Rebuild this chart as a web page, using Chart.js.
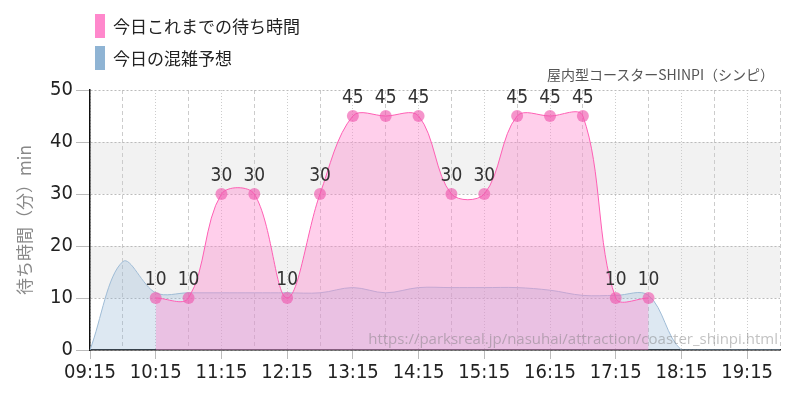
<!DOCTYPE html>
<html>
<head>
<meta charset="utf-8">
<script src="https://cdn.jsdelivr.net/npm/chart.js@4.4.0/dist/chart.umd.min.js"></script>
<style>
  body { margin: 0; background: #fff; }
  #wrap { position: relative; width: 800px; height: 400px; }
  .leg { position: absolute; left: 95px; font-family: "Noto Sans CJK JP", sans-serif; font-size: 17px; color: #222; line-height: 24px; }
  .leg span.box { display: inline-block; width: 10px; height: 24px; vertical-align: top; margin-right: 8px; }
  #ttl { position: absolute; right: 26px; top: 64px; font-family: "Noto Sans CJK JP", sans-serif; font-size: 14px; color: #555; }
  #url { position: absolute; right: 22px; top: 328px; font-family: "Open Sans", sans-serif; font-size: 15px; color: rgba(120,120,120,0.45); }
</style>
</head>
<body>
<div id="wrap">
  <canvas id="mycanvas" width="800" height="400"></canvas>
  <div class="leg" style="top:14px"><span class="box" style="background:#ff88cc"></span>今日これまでの待ち時間</div>
  <div class="leg" style="top:46px"><span class="box" style="background:#8fb4d4"></span>今日の混雑予想</div>
  <div id="ttl">屋内型コースターSHINPI（シンピ）</div>
  <div id="url">https://parksreal.jp/nasuhai/attraction/coaster_shinpi.html</div>
</div>
<script>
var times = ['09:15','09:45','10:15','10:45','11:15','11:45','12:15','12:45','13:15','13:45','14:15',
             '14:45','15:15','15:45','16:15','16:45','17:15','17:45','18:15','18:45','19:15','19:45'];
var waitToday = [null,null,10,10,30,30,10,30,45,45,45,30,30,45,45,45,10,10,null,null,null,null];
var forecast = [0,17,11,11,11,11,11,11,12,11,12,12,12,12,11.5,10.5,10.5,10.5,0,0,0,0];
var yTicks = [0,10,20,30,40,50];

var condensed = '"Liberation Sans Narrow", "DejaVu Sans Condensed", sans-serif';

// gray bands 10-20, 30-40
var bands = {
	id: 'bands',
	beforeDraw: function(chart) {
		var c = chart.ctx, a = chart.chartArea, y = chart.scales.y;
		c.save();
		c.fillStyle = '#f2f2f2';
		[[10,20],[30,40]].forEach(function(b){
			var t = y.getPixelForValue(b[1]), bt = y.getPixelForValue(b[0]);
			c.fillRect(a.left, t, a.right - a.left, bt - t);
		});
		c.restore();
	}
};

// value labels above pink points
var labels = {
	id: 'labels',
	afterDatasetsDraw: function(chart) {
		var c = chart.ctx;
		var meta = chart.getDatasetMeta(0);
		c.save();
		c.font = '19px ' + condensed;
		c.fillStyle = '#333';
		c.textAlign = 'center';
		c.textBaseline = 'bottom';
		meta.data.forEach(function(p, i){
			var v = waitToday[i];
			if (v === null) return;
			c.fillText(v, p.x, p.y - 8);
		});
		c.restore();
	}
};

var ctx = document.getElementById('mycanvas');
var chart = new Chart(ctx, {
	type: 'line',
	data: {
		labels: times,
		datasets: [
			{
				label: '今日これまでの待ち時間',
				data: waitToday,
				borderColor: '#ff5fb4',
				borderWidth: 1,
				backgroundColor: 'rgba(255,136,204,0.4)',
				fill: 'origin',
				tension: 0.35,
				pointRadius: 6,
				pointBorderWidth: 0,
				pointBackgroundColor: 'rgba(240,90,175,0.65)',
				spanGaps: false
			},
			{
				label: '今日の混雑予想',
				data: forecast,
				borderColor: '#9fbcd6',
				borderWidth: 1,
				backgroundColor: 'rgba(143,180,212,0.3)',
				fill: 'origin',
				tension: 0.35,
				pointRadius: 0
			}
		]
	},
	options: {
		responsive: false,
		animation: false,
		layout: { padding: { top: 90, right: 20, left: 8, bottom: 0 } },
		plugins: { legend: { display: false }, tooltip: { enabled: false } },
		scales: {
			x: {
				grid: {
					color: '#cccccc',
					tickColor: function(c){ return c.index % 2 === 0 ? '#bbbbbb' : 'transparent'; },
					tickLength: 9
				},
				border: {
					color: '#111', width: 1.5,
					dash: function(c){ return c.index % 2 === 0 ? [1,2] : [4,3]; }
				},
				ticks: {
					autoSkip: false,
					maxRotation: 0,
					padding: 2,
					color: '#222',
					font: { family: condensed, size: 20 },
					callback: function(v, i){ return i % 2 === 0 ? times[i] : ''; }
				},
				afterFit: function(s){ s.height = 50; }
			},
			y: {
				min: 0,
				max: 50,
				afterBuildTicks: function(s){ s.ticks = yTicks.map(function(v){ return {value: v}; }); },
				grid: { color: '#bbbbbb', tickColor: '#bbbbbb', tickLength: 14 },
				border: { color: '#111', width: 1.5, dash: [2,2] },
				ticks: { padding: 3, color: '#222', font: { family: condensed, size: 20 } },
				title: {
					display: true,
					text: '待ち時間（分）min',
					color: '#888',
					padding: { top: 6, bottom: 4 },
					font: { family: '"Noto Sans CJK JP", sans-serif', size: 17 }
				},
				afterFit: function(s){ s.width = 82; }
			}
		}
	},
	plugins: [bands, labels]
});
</script>
</body>
</html>
